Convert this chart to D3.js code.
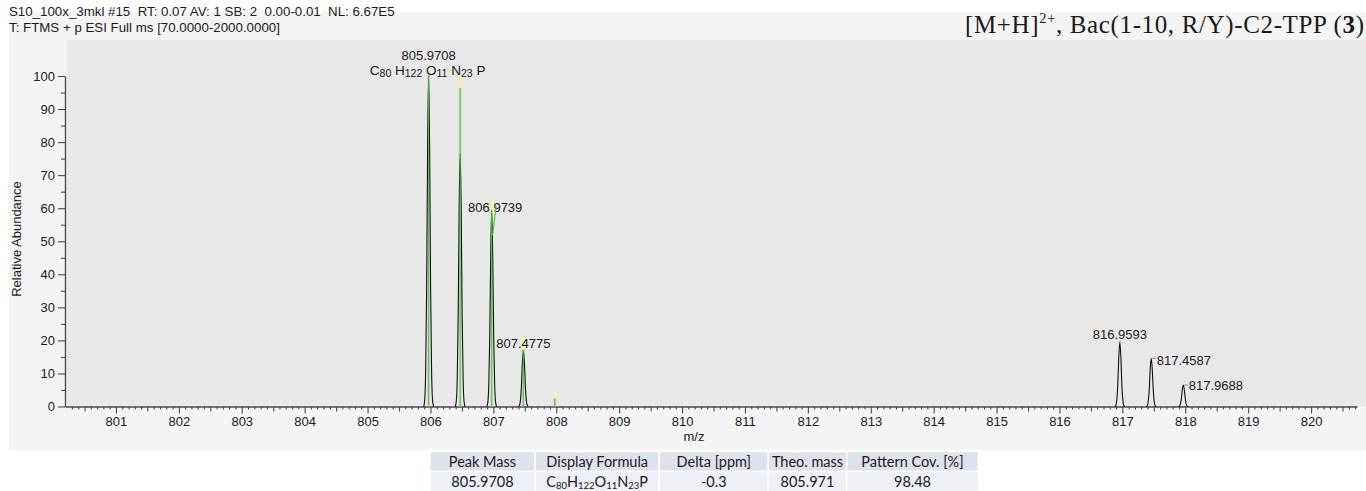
<!DOCTYPE html>
<html><head><meta charset="utf-8">
<script src="https://cdn.jsdelivr.net/npm/d3@7"></script>
<style>
html,body{margin:0;padding:0;background:#fff;}
svg{display:block;}
text{fill:#1a1a1a;}
</style></head>
<body>
<svg id="c" width="1366" height="491" font-family="Arial, 'Liberation Sans', sans-serif"></svg>
<script>
// ---- data ----
const headerLines = ["S10_100x_3mkl #15  RT: 0.07 AV: 1 SB: 2  0.00-0.01  NL: 6.67E5",
                     "T: FTMS + p ESI Full ms [70.0000-2000.0000]"];
const peakMz     = [805.9708, 806.4723, 806.9739, 807.4775, 816.9593, 817.4587, 817.9688];
const peakAbund  = [100, 76.5, 58.5, 17.0, 19.5, 14.6, 6.5];
const peakLabels = ["805.9708", "", "806.9739", "807.4775", "816.9593", "817.4587", "817.9688"];
const theoMz     = [805.9708, 806.4723, 806.9739, 807.4757, 807.9772];
const theoAbund  = [100, 96.4, 57.7, 17.0, 2.5];
const theoTolTop = [100, 100, 62.8, 21.0, 5.0];
const xTickValues = [801,802,803,804,805,806,807,808,809,810,811,812,813,814,815,816,817,818,819,820];
const yTickValues = [0,10,20,30,40,50,60,70,80,90,100];
const formulaParts = [["C","80"],["H","122"],["O","11"],["N","23"],["P",""]];
const tableHeaders = ["Peak Mass","Display Formula","Delta [ppm]","Theo. mass","Pattern Cov. [%]"];
const tableValues  = ["805.9708","FORMULA","-0.3","805.971","98.48"];
const titleParts = ["[M+H]","2+",", Bac(1-10, R/Y)-C2-TPP (","3",")"];

// ---- layout ----
const svg = d3.select("#c");
const x = d3.scaleLinear().domain([800.19, 820.73]).range([65, 1357]);
const y = d3.scaleLinear().domain([0, 100]).range([406.5, 76]);
const SANS = "Arial, 'Liberation Sans', sans-serif";
const SERIF = "'Liberation Serif', 'DejaVu Serif', serif";
const TABLEF = "Lato, 'Open Sans', sans-serif";

// backgrounds
svg.append("rect").attr("x",9).attr("y",12).attr("width",1357).attr("height",438).attr("fill","#f4f4f4");
svg.append("rect").attr("x",67).attr("y",40).attr("width",1299).attr("height",366.5).attr("fill","#e8e8e8");

// header
headerLines.forEach((t,i)=>{
  svg.append("text").attr("x",9).attr("y",16+i*16).style("white-space","pre")
     .style("font-family",SANS).attr("font-size",13.3).text(t);
});

// title
const tt = svg.append("text").attr("x",965).attr("y",33)
  .style("font-family",SERIF).attr("font-size",25)
  .style("white-space","pre").attr("textLength",399).attr("lengthAdjust","spacing");
tt.append("tspan").text(titleParts[0]);
tt.append("tspan").attr("font-size",14.5).attr("dy",-10).text(titleParts[1]);
tt.append("tspan").attr("dy",10).text(titleParts[2]);
tt.append("tspan").attr("font-weight","bold").text(titleParts[3]);
tt.append("tspan").text(titleParts[4]);

// axes
const axisColor = "#4a4a4a";
function styleAxis(g){
  g.selectAll("path.domain").attr("stroke",axisColor).attr("stroke-width",1.4);
  g.selectAll("line").attr("stroke",axisColor).attr("stroke-width",1.1);
  g.selectAll("text").style("font-family",SANS).attr("font-size",13).attr("fill","#1a1a1a");
}
const minorX = d3.range(8003, 8208).map(v=>v/10).filter(v=>Math.abs(v-Math.round(v))>1e-6 && Math.abs(v*2-Math.round(v*2))>1e-6);
const halfX  = d3.range(8005, 8208, 10).map(v=>v/10);
svg.append("g").attr("transform","translate(0,406.5)")
  .call(d3.axisBottom(x).tickValues(minorX).tickSize(3).tickFormat("")).call(g=>g.select(".domain").remove()).call(styleAxis);
svg.append("g").attr("transform","translate(0,406.5)")
  .call(d3.axisBottom(x).tickValues(halfX).tickSize(5).tickFormat("")).call(g=>g.select(".domain").remove()).call(styleAxis);
svg.append("g").attr("transform","translate(0,406.5)")
  .call(d3.axisBottom(x).tickValues(xTickValues).tickSize(7).tickSizeOuter(0).tickPadding(3).tickFormat(d3.format("d"))).call(styleAxis);

svg.append("g").attr("transform","translate(65,0)")
  .call(d3.axisLeft(y).tickValues(d3.range(5,100,10)).tickSize(4).tickFormat("")).call(g=>g.select(".domain").remove()).call(styleAxis);
svg.append("g").attr("transform","translate(65,0)")
  .call(d3.axisLeft(y).tickValues(yTickValues).tickSize(7).tickSizeOuter(0).tickPadding(3)).call(styleAxis);

svg.append("text").attr("transform","translate(21,239) rotate(-90)").attr("text-anchor","middle")
  .style("font-family",SANS).attr("font-size",13).text("Relative Abundance");
svg.append("text").attr("x",694).attr("y",441).attr("text-anchor","middle")
  .style("font-family",SANS).attr("font-size",13).text("m/z");

// ---- theoretical pattern (behind) ----
const plot = svg.append("g");
theoMz.forEach((m,i)=>{
  plot.append("rect").attr("x",x(m)-1.5).attr("width",3)
    .attr("y",y(theoAbund[i])).attr("height",y(0)-y(theoAbund[i]))
    .attr("fill","#b8d8a8").attr("opacity",0.7);
  if(theoTolTop[i]>theoAbund[i]){
    plot.append("rect").attr("x",x(m)-2).attr("width",4)
      .attr("y",y(theoTolTop[i])).attr("height",y(theoAbund[i])-y(theoTolTop[i]))
      .attr("fill","#f3f3b0");
  }
});

// ---- measured profile peaks ----
const shape = [[-0.078,0],[-0.062,0.02],[-0.047,0.11],[-0.031,0.37],[-0.016,0.78],[0,1],
               [0.016,0.78],[0.031,0.37],[0.047,0.11],[0.062,0.02],[0.078,0]];
const line = d3.line().x(d=>x(d[0])).y(d=>y(d[1])).curve(d3.curveMonotoneX);
peakMz.forEach((m,i)=>{
  const pts = shape.map(s=>[m+s[0], s[1]*peakAbund[i]]);
  plot.append("path").attr("d",line(pts)).attr("fill","none").attr("stroke","#111").attr("stroke-width",1.1);
});

// green theoretical sticks (front)
theoMz.forEach((m,i)=>{
  plot.append("line").attr("x1",x(m)).attr("x2",x(m)).attr("y1",y(0)).attr("y2",y(theoAbund[i]))
    .attr("stroke","#44c844").attr("stroke-width",1);
});

// ---- labels ----
const labelLayout = [
  {dx:0, dy:-16, anchor:"middle"},
  null,
  {dx:3.5, dy:-1, anchor:"middle"},
  {dx:0, dy:-2, anchor:"middle"},
  {dx:0, dy:-3, anchor:"middle"},
  {dx:5.5, dy:6.5, anchor:"start", dash:true},
  {dx:5.5, dy:4.5, anchor:"start", dash:true}
];
peakMz.forEach((m,i)=>{
  const L = labelLayout[i];
  if(!L || !peakLabels[i]) return;
  const px = x(m), py = y(peakAbund[i]);
  svg.append("text").attr("x",px+L.dx).attr("y",py+L.dy).attr("text-anchor",L.anchor)
    .style("font-family",SANS).attr("font-size",13).text(peakLabels[i]);
  if(L.dash){
    svg.append("line").attr("x1",px+1).attr("x2",px+4.5).attr("y1",py).attr("y2",py)
      .attr("stroke","#44c844").attr("stroke-width",1.2);
  } else {
    svg.append("line").attr("x1",px-1).attr("x2",px+1).attr("y1",py).attr("y2",py)
      .attr("stroke","#44c844").attr("stroke-width",1.2);
  }
});
// slanted connector at 806.9739
svg.append("line").attr("x1",x(peakMz[2])+4.5).attr("y1",y(peakAbund[2])-7)
  .attr("x2",x(peakMz[2])+0.8).attr("y2",y(peakAbund[2])+22)
  .attr("stroke","#44c844").attr("stroke-width",1.1);

// formula under main label
const f = svg.append("text").attr("x",x(peakMz[0])-1).attr("y",y(peakAbund[0])-1.5)
  .attr("text-anchor","middle").style("font-family",SANS).attr("font-size",13.5).style("white-space","pre");
formulaParts.forEach((p,j)=>{
  f.append("tspan").attr("dy", j===0?0:-2).text((j===0?"":" ")+p[0]);
  if(p[1]) f.append("tspan").attr("font-size",10.5).attr("dy",2).text(p[1]);
  else f.append("tspan").attr("dy",2).text("");
});

// ---- table ----
const colEdges = [430, 535, 659.3, 768.3, 846.7, 978.3];
const tbl = svg.append("g");
tableHeaders.forEach((h,i)=>{
  const x0 = colEdges[i], x1 = colEdges[i+1];
  tbl.append("rect").attr("x",x0).attr("y",451.5).attr("width",x1-x0).attr("height",20).attr("fill","#dde2eb")
    .attr("stroke","#fff").attr("stroke-width",1.5);
  tbl.append("rect").attr("x",x0).attr("y",471.5).attr("width",x1-x0).attr("height",21).attr("fill","#edf0f5")
    .attr("stroke","#fff").attr("stroke-width",1.5);
  tbl.append("text").attr("x",(x0+x1)/2).attr("y",466.5).attr("text-anchor","middle")
    .style("font-family",TABLEF).attr("font-size",14.5).text(h);
  const t = tbl.append("text").attr("x",(x0+x1)/2).attr("y",486.5).attr("text-anchor","middle")
    .style("font-family",TABLEF).attr("font-size",14.5);
  if(tableValues[i]==="FORMULA"){
    formulaParts.forEach((p,j)=>{
      t.append("tspan").attr("dy", j===0?0:-2).text(p[0]);
      if(p[1]) t.append("tspan").attr("font-size",9.5).attr("dy",2).text(p[1]);
      else t.append("tspan").attr("dy",2).text("");
    });
  } else t.text(tableValues[i]);
});
</script>
</body></html>
